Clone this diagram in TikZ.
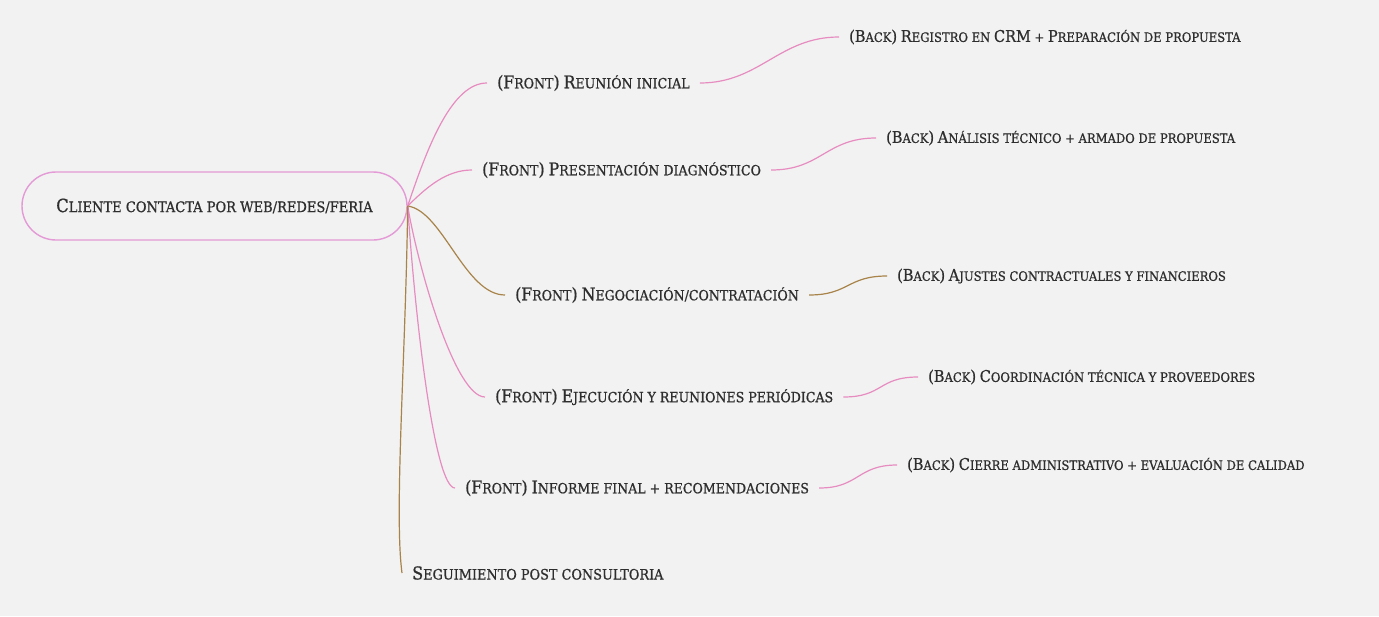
\documentclass[tikz,border=0pt]{standalone}
\usepackage{fontspec}
\usepackage{graphicx}
\newfontfamily\slab[FakeBold=0.8]{DejaVu Serif Condensed}
\newcommand\B[1]{\scalebox{1.25}{#1}}
\definecolor{bg}{HTML}{F2F2F2}
\definecolor{pinkline}{HTML}{E68CC0}
\definecolor{rootline}{HTML}{E39AD6}
\definecolor{brownline}{HTML}{A8834A}
\definecolor{ink}{HTML}{2E2E2E}
\tikzset{
  lbl/.style={anchor=west, inner xsep=10pt, inner ysep=0pt, text=ink, font=\slab\fontsize{12}{12}\selectfont},
  frontlbl/.style={lbl, font=\slab\fontsize{14}{14}\selectfont},
  backlbl/.style={lbl, font=\slab\fontsize{12.9}{12.9}\selectfont},
  rootbox/.style={draw=rootline, line width=1.4pt, rounded corners=34pt, minimum width=385pt, minimum height=68pt, text=ink, font=\slab\fontsize{14.5}{14.5}\selectfont},
  pk/.style={draw=pinkline, line width=1.2pt},
  br/.style={draw=brownline, line width=1.2pt}
}
\begin{document}
\begin{tikzpicture}[x=1pt,y=-1pt]
\fill[bg] (0,0) rectangle (1379,616);
\useasboundingbox (0,0) rectangle (1379,616);

\node[rootbox] (root) at (214.5,206) {\B{C}LIENTE CONTACTA POR WEB/REDES/FERIA};

\node[frontlbl] (f1) at (487,83) {\B{(F}RONT\B{)} \B{R}EUNIÓN INICIAL};
\node[frontlbl] (f2) at (472,170) {\B{(F}RONT\B{)} \B{P}RESENTACIÓN DIAGNÓSTICO};
\node[frontlbl] (f3) at (505,295) {\B{(F}RONT\B{)} \B{N}EGOCIACIÓN/CONTRATACIÓN};
\node[frontlbl] (f4) at (485,397) {\B{(F}RONT\B{)} \B{E}JECUCIÓN Y REUNIONES PERIÓDICAS};
\node[frontlbl] (f5) at (455,488) {\B{(F}RONT\B{)} \B{I}NFORME FINAL + RECOMENDACIONES};
\node[frontlbl, font=\slab\fontsize{14.3}{14.3}\selectfont] (f6) at (402,573) {\B{S}EGUIMIENTO POST CONSULTORIA};

\node[backlbl] (b1) at (839,37) {\B{(B}ACK\B{)} \B{R}EGISTRO EN \B{CRM} + \B{P}REPARACIÓN DE PROPUESTA};
\node[backlbl] (b2) at (876,138) {\B{(B}ACK\B{)} \B{A}NÁLISIS TÉCNICO + ARMADO DE PROPUESTA};
\node[backlbl] (b3) at (887,276) {\B{(B}ACK\B{)} \B{A}JUSTES CONTRACTUALES Y FINANCIEROS};
\node[backlbl] (b4) at (918,377) {\B{(B}ACK\B{)} \B{C}OORDINACIÓN TÉCNICA Y PROVEEDORES};
\node[backlbl] (b5) at (897,465) {\B{(B}ACK\B{)} \B{C}IERRE ADMINISTRATIVO + EVALUACIÓN DE CALIDAD};

\draw[pk] (root.east) .. controls +(20,-60) and +(-35,0) .. (f1.west);
\draw[pk] (root.east) .. controls +(20,-20) and +(-25,0) .. (f2.west);
\draw[br] (root.east) .. controls +(35,5) and +(-40,0) .. (f3.west);
\draw[pk] (root.east) .. controls +(10,60) and +(-30,0) .. (f4.west);
\draw[pk] (root.east) .. controls +(8,120) and +(-20,0) .. (f5.west);
\draw[br] (root.east) .. controls +(-2,150) and +(-8,-60) .. (f6.west);

\draw[pk] (f1.east) .. controls +(60,0) and +(-60,0) .. (b1.west);
\draw[pk] (f2.east) .. controls +(50,0) and +(-50,0) .. (b2.west);
\draw[br] (f3.east) .. controls +(40,0) and +(-40,0) .. (b3.west);
\draw[pk] (f4.east) .. controls +(40,0) and +(-40,0) .. (b4.west);
\draw[pk] (f5.east) .. controls +(40,0) and +(-40,0) .. (b5.west);
\end{tikzpicture}
\end{document}
